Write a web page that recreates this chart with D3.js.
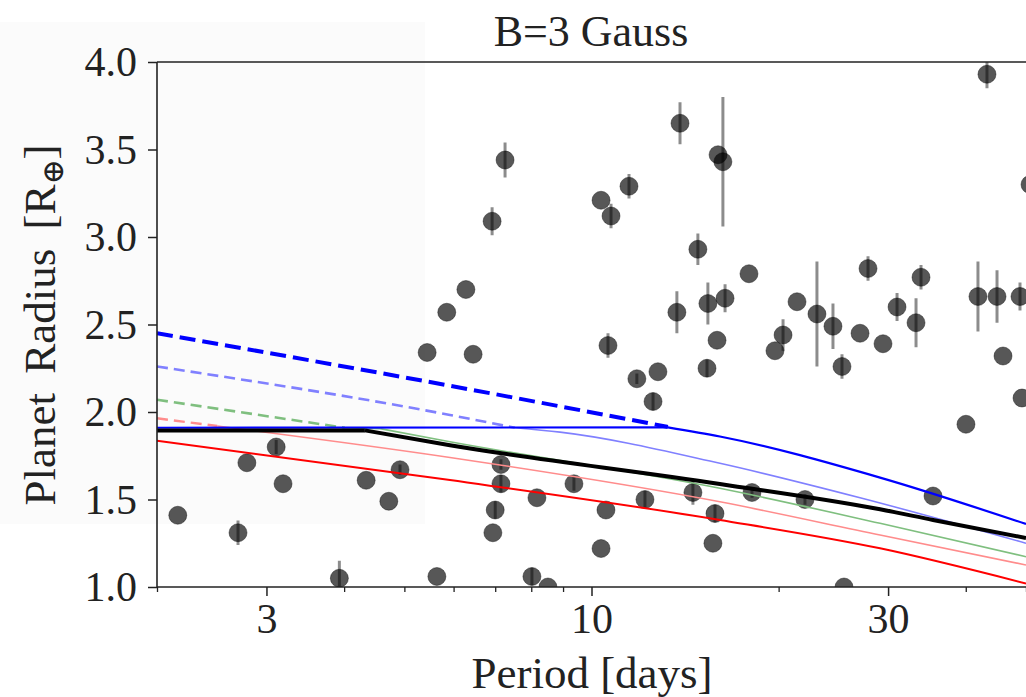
<!DOCTYPE html>
<html>
<head>
<meta charset="utf-8">
<script src="https://cdn.jsdelivr.net/npm/d3@7"></script>
<style>
  html, body { margin: 0; padding: 0; background: #fff; overflow: hidden; }
  svg { display: block; }
  text { font-family: "Liberation Serif", "DejaVu Serif", serif; fill: #222; }
</style>
</head>
<body>
<svg id="chart" width="1026" height="697"></svg>
<script>
// ---------------- data ----------------
const titleText = "B=3 Gauss";
const xLabel = "Period [days]";
const yTicks = [1.0, 1.5, 2.0, 2.5, 3.0, 3.5, 4.0];
const xMajorTicks = [3, 10, 30];
const xMinorTicks = [2, 4, 5, 6, 7, 8, 9, 20, 40, 50];

// planets: period (days), radius (R_earth), radius error
const ptPeriod = [2.16,2.70,2.79,3.11,3.19,3.93,4.34,4.72,4.92,5.44,5.64,5.85,6.28,6.45,6.92,7.26,7.15,7.15,7.00,6.94,
  8.17,8.02,8.51,9.37,10.55,10.36,10.36,10.75,11.49,10.63,11.83,12.79,12.56,12.19,13.88,13.72,14.83,15.39,15.34,14.56,
  15.80,15.68,15.92,16.40,15.98,16.27,17.92,18.12,19.73,20.33,21.41,22.05,23.05,24.46,25.29,25.48,27.04,27.85,29.44,31.01,
  33.27,33.89,35.43,40.03,41.85,43.27,44.91,45.92,48.90,49.27,50.75];
const ptRadius = [1.41,1.31,1.71,1.80,1.59,1.05,1.61,1.49,1.67,2.34,1.06,2.57,2.70,2.33,3.09,3.44,1.70,1.59,1.44,1.31,
  1.51,1.06,1.00,1.59,1.44,1.22,3.21,3.12,3.29,2.38,2.19,2.23,2.06,1.50,3.65,2.57,2.93,2.62,2.25,1.54,
  1.42,1.25,2.41,2.65,3.47,3.43,2.79,1.54,2.35,2.44,2.63,1.50,2.56,2.49,2.26,1.00,2.45,2.82,2.39,2.60,
  2.51,2.77,1.52,1.93,2.66,3.93,2.66,2.32,2.66,2.08,3.30];
const ptErr = [0,0.07,0,0.04,0,0.10,0,0,0.03,0,0,0,0,0,0.08,0.10,0.03,0.05,0.05,0,
  0,0.05,0,0.04,0,0,0,0.07,0.07,0.07,0.03,0,0.05,0.05,0.12,0.12,0.09,0.12,0.05,0.07,
  0.05,0,0,0.08,0,0.37,0,0.03,0,0.09,0,0.03,0.30,0.13,0.07,0,0,0.07,0,0.08,
  0.14,0.07,0,0,0.20,0.08,0.15,0,0.08,0,0];

// model curves (period, radius)
const blueDashP = [2, 5.92, 13.27];
const blueDashR = [2.45, 2.15, 1.915];
const blueSolidP = [2, 13.27, 16.09, 29.12, 50];
const blueSolidR = [1.91, 1.912, 1.86, 1.625, 1.36];
const lblueDashP = [2, 5.92, 7.53];
const lblueDashR = [2.26, 1.983, 1.91];
const lblueSolidP = [7.53, 8.90, 16.09, 27.04, 50];
const lblueSolidR = [1.91, 1.885, 1.707, 1.51, 1.25];
const greenDashP = [2, 4.01];
const greenDashR = [2.07, 1.91];
const greenSolidP = [4.01, 4.57, 5.92, 16.09, 29.12, 50];
const greenSolidR = [1.91, 1.905, 1.83, 1.564, 1.364, 1.173];
const pinkDashP = [2, 2.50];
const pinkDashR = [1.964, 1.92];
const pinkSolidP = [2.50, 5.92, 16.09, 29.12, 50];
const pinkSolidR = [1.92, 1.74, 1.487, 1.297, 1.126];
const redSolidP = [2, 5.92, 16.09, 29.12, 50];
const redSolidR = [1.836, 1.611, 1.383, 1.221, 1.02];
const blackP = [2, 4.32, 5.92, 16.09, 29.12, 35.43, 50];
const blackR = [1.895, 1.895, 1.81, 1.589, 1.444, 1.383, 1.28];

// ---------------- drawing ----------------
(function () {
const svg = d3.select("#chart");
const W = 1026, H = 697;
const mLeft = 157, mRight = 1026, mTop = 62, mBottom = 587;

const x = d3.scaleLog().domain([2, 50]).range([mLeft, mRight]);
const y = d3.scaleLinear().domain([1, 4]).range([mBottom, mTop]);

svg.append("rect").attr("width", W).attr("height", H).attr("fill", "#fff");
// faint shaded patch in the original picture
svg.append("rect").attr("x", 0).attr("y", 22).attr("width", 425).attr("height", 502).attr("fill", "#fbfbfb");

svg.append("defs").append("clipPath").attr("id", "clip")
  .append("rect").attr("x", mLeft).attr("y", mTop).attr("width", mRight - mLeft + 40).attr("height", mBottom - mTop);

const plot = svg.append("g").attr("clip-path", "url(#clip)");

const zip = (P, R) => P.map((p, i) => [p, R[i]]);
const lineLin = d3.line().x(d => x(d[0])).y(d => y(d[1]));
const lineSmooth = d3.line().x(d => x(d[0])).y(d => y(d[1])).curve(d3.curveMonotoneX);

// knee: index where the flat part ends (0 = no flat part)
const curves = [
  {P: pinkSolidP, R: pinkSolidR, c: "#ff8c8c", w: 1.6, dash: null, knee: 0},
  {P: pinkDashP, R: pinkDashR, c: "#ff8c8c", w: 2.4, dash: "11,6", knee: 0},
  {P: redSolidP, R: redSolidR, c: "#ff0000", w: 2, dash: null, knee: 0},
  {P: greenSolidP, R: greenSolidR, c: "#7fbf7f", w: 1.6, dash: null, knee: 1},
  {P: greenDashP, R: greenDashR, c: "#7fbf7f", w: 2.6, dash: "11,6", knee: 0},
  {P: lblueSolidP, R: lblueSolidR, c: "#8080ff", w: 1.6, dash: null, knee: 0},
  {P: lblueDashP, R: lblueDashR, c: "#8080ff", w: 2.6, dash: "11,6", knee: 0},
  {P: blueSolidP, R: blueSolidR, c: "#0000ff", w: 2.2, dash: null, knee: 1},
  {P: blueDashP, R: blueDashR, c: "#0000ff", w: 4, dash: "16,7", knee: 0},
  {P: blackP, R: blackR, c: "#000000", w: 4, dash: null, knee: 1}
];
const segs = [];
curves.forEach(cv => {
  const p = zip(cv.P, cv.R);
  if (cv.knee > 0) {
    segs.push({d: lineLin(p.slice(0, cv.knee + 1)), cv});
    segs.push({d: lineSmooth(p.slice(cv.knee)), cv});
  } else {
    segs.push({d: lineSmooth(p), cv});
  }
});

// error bars
const pts = ptPeriod.map((p, i) => ({p, r: ptRadius[i], e: ptErr[i] || 0}));
plot.append("g").selectAll("line").data(pts.filter(d => d.e > 0)).join("line")
  .attr("x1", d => x(d.p)).attr("x2", d => x(d.p))
  .attr("y1", d => y(d.r - d.e)).attr("y2", d => y(d.r + d.e))
  .attr("stroke", "#000").attr("stroke-opacity", 0.45).attr("stroke-width", 3);

plot.append("g").selectAll("circle").data(pts).join("circle")
  .attr("cx", d => x(d.p)).attr("cy", d => y(d.r)).attr("r", 9)
  .attr("fill", "#000").attr("fill-opacity", 0.66)
  .attr("stroke", "#000").attr("stroke-opacity", 0.4).attr("stroke-width", 1);

plot.append("g").selectAll("path").data(segs).join("path")
  .attr("d", s => s.d)
  .attr("fill", "none").attr("stroke", s => s.cv.c).attr("stroke-width", s => s.cv.w)
  .attr("stroke-linejoin", "round")
  .attr("stroke-dasharray", s => s.cv.dash);

// axes
const yAxis = svg.append("g").attr("transform", `translate(${mLeft},0)`)
  .call(d3.axisLeft(y).tickValues(yTicks).tickFormat(d3.format(".1f")).tickSize(9).tickPadding(11));
yAxis.select(".domain").remove();
yAxis.selectAll("line").attr("stroke", "#222").attr("stroke-width", 1.5);
yAxis.selectAll("text").attr("font-size", 42).attr("dy", "0.33em")
  .attr("font-family", "Liberation Serif").attr("fill", "#222");

const xAxis = svg.append("g").attr("transform", `translate(0,${mBottom})`)
  .call(d3.axisBottom(x).tickValues(xMajorTicks).tickFormat(d3.format("d")).tickSize(9));
xAxis.select(".domain").remove();
xAxis.selectAll("line").attr("stroke", "#222").attr("stroke-width", 1.5);
xAxis.selectAll("text").attr("font-size", 42).attr("y", 46).attr("dy", 0)
  .attr("font-family", "Liberation Serif").attr("fill", "#222");

const xMinor = svg.append("g").attr("transform", `translate(0,${mBottom})`)
  .call(d3.axisBottom(x).tickValues(xMinorTicks).tickFormat("").tickSize(5));
xMinor.select(".domain").remove();
xMinor.selectAll("line").attr("stroke", "#222").attr("stroke-width", 1.3);

// spines
svg.append("line").attr("x1", mLeft).attr("x2", mLeft).attr("y1", mTop).attr("y2", mBottom)
  .attr("stroke", "#222").attr("stroke-width", 1.6);
svg.append("line").attr("x1", mLeft).attr("x2", W + 5).attr("y1", mTop).attr("y2", mTop)
  .attr("stroke", "#222").attr("stroke-width", 1.6);
svg.append("line").attr("x1", mLeft).attr("x2", W + 5).attr("y1", mBottom).attr("y2", mBottom)
  .attr("stroke", "#222").attr("stroke-width", 1.6);

// texts
svg.append("text").attr("x", 591).attr("y", 46).attr("text-anchor", "middle")
  .attr("font-size", 44).text(titleText);

svg.append("text").attr("x", 592).attr("y", 688).attr("text-anchor", "middle")
  .attr("font-size", 45).text(xLabel);

const yl = svg.append("text").attr("transform", "translate(55,325) rotate(-90)")
  .attr("text-anchor", "middle").attr("font-size", 45).attr("word-spacing", 8);
yl.append("tspan").text("Planet Radius [R");
yl.append("tspan").attr("font-size", 30).attr("dy", 8).attr("font-family", "DejaVu Serif").text("\u2295");
yl.append("tspan").attr("dy", -8).text("]");
})();
</script>
</body>
</html>
